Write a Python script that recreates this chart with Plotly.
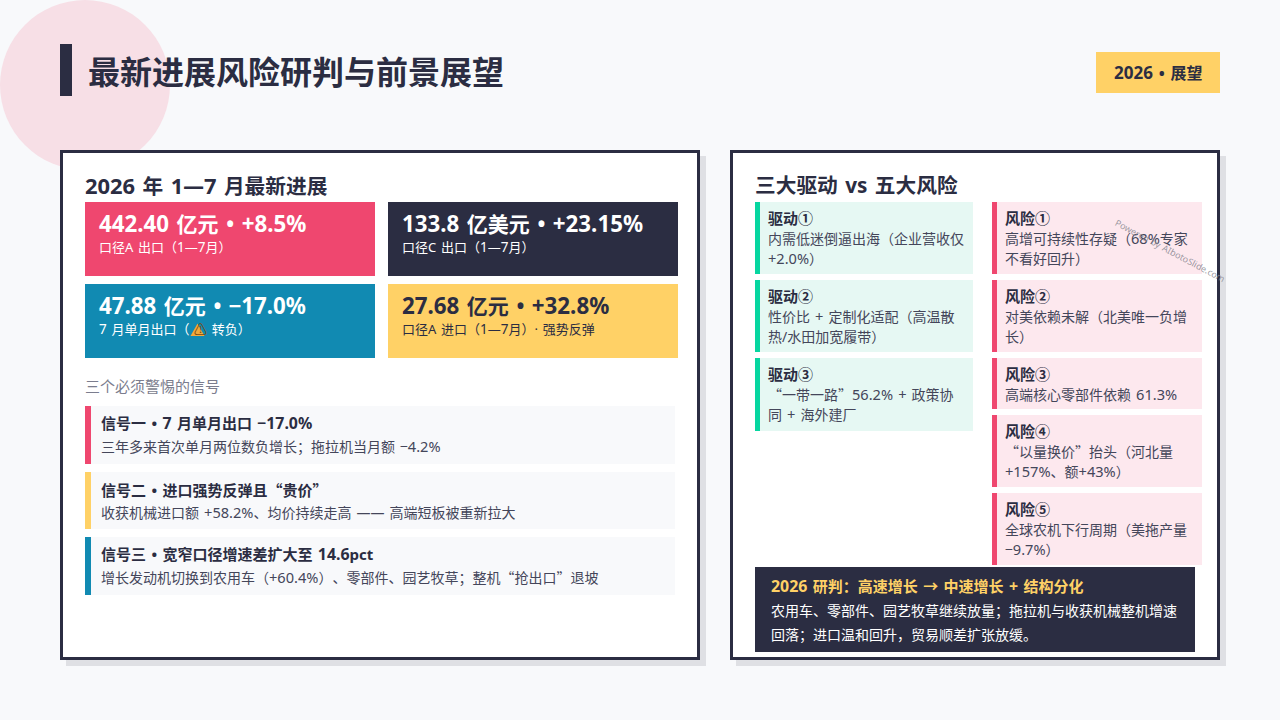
#!/usr/bin/env python3
"""Slide: 最新进展风险研判与前景展望, drawn with plotly shapes and annotations."""
import re
import plotly.graph_objects as go

NAVY = "#2B2D42"
RED = "#EF476F"
BLUE = "#118AB2"
YELLOW = "#FFD166"
GREEN = "#06D6A0"
FONT = "Noto Sans, Noto Sans CJK SC, sans-serif"

TITLE = "最新进展风险研判与前景展望"
TAG = "2026 • 展望"
LEFT_HEAD = "2026 年 1—7 月最新进展"
RIGHT_HEAD = "三大驱动 vs 五大风险"
SIGNAL_HEAD = "三个必须警惕的信号"
WATERMARK = "Powered by AIbotoSlide.com"

KPI_BIG = ["442.40 亿元 • +8.5%", "133.8 亿美元 • +23.15%", "47.88 亿元 • −17.0%", "27.68 亿元 • +32.8%"]
KPI_SMALL = ["口径A 出口（1—7月）", "口径C 出口（1—7月）",
             "7 月单月出口（ <span style=\"color:#7A4A10\">⚠</span> 转负）",
             "口径A 进口（1—7月）· 强势反弹"]

SIGNAL_TITLES = ["信号一 • 7 月单月出口 −17.0%", "信号二 • 进口强势反弹且“贵价”", "信号三 • 宽窄口径增速差扩大至 14.6pct"]
SIGNAL_BODIES = ["三年多来首次单月两位数负增长；拖拉机当月额 −4.2%",
                 "收获机械进口额 +58.2%、均价持续走高 —— 高端短板被重新拉大",
                 "增长发动机切换到农用车（+60.4%）、零部件、园艺牧草；整机“抢出口”退坡"]

DRIVE_TITLES = ["驱动①", "驱动②", "驱动③"]
DRIVE_LINES = [["内需低迷倒逼出海（企业营收仅", "+2.0%）"],
               ["性价比 + 定制化适配（高温散", "热/水田加宽履带）"],
               ["“一带一路”56.2% + 政策协", "同 + 海外建厂"]]

RISK_TITLES = ["风险①", "风险②", "风险③", "风险④", "风险⑤"]
RISK_LINES = [["高增可持续性存疑（68%专家", "不看好回升）"],
              ["对美依赖未解（北美唯一负增", "长）"],
              ["高端核心零部件依赖 61.3%"],
              ["“以量换价”抬头（河北量", "+157%、额+43%）"],
              ["全球农机下行周期（美拖产量", "−9.7%）"]]

CALL_TITLE = "2026 研判：高速增长 → 中速增长 + 结构分化"
CALL_LINES = ["农用车、零部件、园艺牧草继续放量；拖拉机与收获机械整机增速",
              "回落；进口温和回升，贸易顺差扩张放缓。"]

shapes, notes = [], []


def rect(x0, y0, x1, y1, fill, line=None, width=0):
    shapes.append(dict(type="rect", x0=x0, y0=y0, x1=x1, y1=y1, fillcolor=fill, layer="below",
                       line=dict(color=line or fill, width=width)))


def text(x, y, s, size, color=NAVY, bold=False, anchor="left"):
    # digits run a little wider in the reference; skip anything inside a tag
    digit_size = size * (1.06 if bold else 1.04)

    def widen(m):
        return m.group(0) if m.group(1) else f'<span style="font-size:{digit_size:.1f}px">{m.group(2)}</span>'
    s = re.sub(r"(<[^>]+>)|([0-9.+%]+)", widen, s)
    # quotes, minus and arrows are the wider CJK glyphs in the reference
    s = re.sub(r"([−“”→])", r'<span style="font-family:Noto Sans CJK SC">\1</span>', s)
    notes.append(dict(x=x, y=y - 1, text=f"<b>{s}</b>" if bold else s, showarrow=False, xanchor=anchor,
                      yanchor="middle", align="left", borderpad=0, borderwidth=0,
                      font=dict(size=size, color=color, family=FONT)))


# background decoration and header
shapes.append(dict(type="circle", x0=0, y0=0, x1=170, y1=170, fillcolor="#F7DFE6", layer="below",
                   line=dict(width=0)))
rect(60, 44, 72, 96, NAVY)
text(88, 72, TITLE, 32, bold=True)
rect(1096, 52, 1220, 93, YELLOW)
text(1156, 73, TAG, 16, bold=True, anchor="center")

# the two panels
for x0, x1 in ((60, 700), (730, 1220)):
    rect(x0 + 6, 156, x1 + 6, 666, "#DFE0E4")
    rect(x0 + 1.5, 151.5, x1 - 1.5, 658.5, "#FFFFFF", NAVY, 3)

# left panel
text(85, 186, LEFT_HEAD, 20.7, bold=True)
tile_x = [85, 388, 85, 388]
tile_y = [202, 202, 284, 284]
tile_fill = [RED, NAVY, BLUE, YELLOW]
tile_ink = ["#FFFFFF", "#FFFFFF", "#FFFFFF", NAVY]
for i in range(4):
    rect(tile_x[i], tile_y[i], tile_x[i] + 290, tile_y[i] + 74, tile_fill[i])
    text(tile_x[i] + 14, tile_y[i] + 22, KPI_BIG[i], 21, tile_ink[i], bold=True)
    text(tile_x[i] + 14, tile_y[i] + 46, KPI_SMALL[i], 13, tile_ink[i])
# warning sign behind the glyph on the third tile
shapes.append(dict(type="path", path="M 197.5 323.5 L 204.5 336 L 190.5 336 Z", fillcolor="#F2A93B",
                   layer="below", line=dict(width=0)))

text(85, 387, SIGNAL_HEAD, 15, "#7B7D8E")
sig_top = [406, 472, 537]
sig_bot = [464, 529, 595]
sig_col = [RED, YELLOW, BLUE]
for i in range(3):
    rect(85, sig_top[i], 675, sig_bot[i], "#F8F9FB")
    rect(85, sig_top[i], 91, sig_bot[i], sig_col[i])
    text(101, sig_top[i] + 18, SIGNAL_TITLES[i], 15, bold=True)
    text(101, sig_top[i] + 41, SIGNAL_BODIES[i], 14, "#44465A")

# right panel
text(755, 186, RIGHT_HEAD, 20.7, bold=True)
drive_top = [202, 280, 358]
drive_bot = [274, 352, 431]
for i in range(3):
    rect(755, drive_top[i], 973, drive_bot[i], "#E6F8F3")
    rect(755, drive_top[i], 760, drive_bot[i], GREEN)
    text(768, drive_top[i] + 17, DRIVE_TITLES[i], 15, bold=True)
    for j, s in enumerate(DRIVE_LINES[i]):
        text(768, drive_top[i] + 37 + 20 * j, s, 14, "#44465A")

risk_top = [202, 280, 358, 415, 493]
risk_bot = [274, 352, 409, 487, 565]
for i in range(5):
    rect(992, risk_top[i], 1202, risk_bot[i], "#FDE8EE")
    rect(992, risk_top[i], 997, risk_bot[i], RED)
    text(1005, risk_top[i] + 17, RISK_TITLES[i], 15, bold=True)
    for j, s in enumerate(RISK_LINES[i]):
        text(1005, risk_top[i] + 37 + 20 * j, s, 14, "#44465A")

rect(755, 567, 1195, 652, NAVY)
text(771, 587, CALL_TITLE, 15, YELLOW, bold=True)
for j, s in enumerate(CALL_LINES):
    text(771, 611 + 24 * j, s, 14, "#FFFFFF")

# faint diagonal site mark over the first risk card
notes.append(dict(x=1170, y=250, text=WATERMARK, showarrow=False, textangle=28, xanchor="center",
                  yanchor="middle", font=dict(size=9, color="rgba(130,130,140,0.8)", family=FONT)))

fig = go.Figure(go.Scatter(x=[], y=[]))
fig.update_layout(
    width=1280, height=720, autosize=False, margin=dict(l=0, r=0, t=0, b=0),
    paper_bgcolor="#F8F9FB", plot_bgcolor="#F8F9FB", showlegend=False,
    xaxis=dict(range=[0, 1280], visible=False, fixedrange=True),
    yaxis=dict(range=[720, 0], visible=False, fixedrange=True),
    shapes=shapes, annotations=notes, font=dict(family=FONT),
)
# page margin off; wider spaces and untrimmed CJK punctuation as in the reference
page_css = ("document.body.style.margin='0';document.documentElement.style.overflow='hidden';"
            "var s=document.createElement('style');"
            "s.textContent='svg text{word-spacing:.1em;text-spacing-trim:space-all}';"
            "document.head.appendChild(s);")
fig.write_html("out.html", config=dict(displayModeBar=False), post_script=page_css)
